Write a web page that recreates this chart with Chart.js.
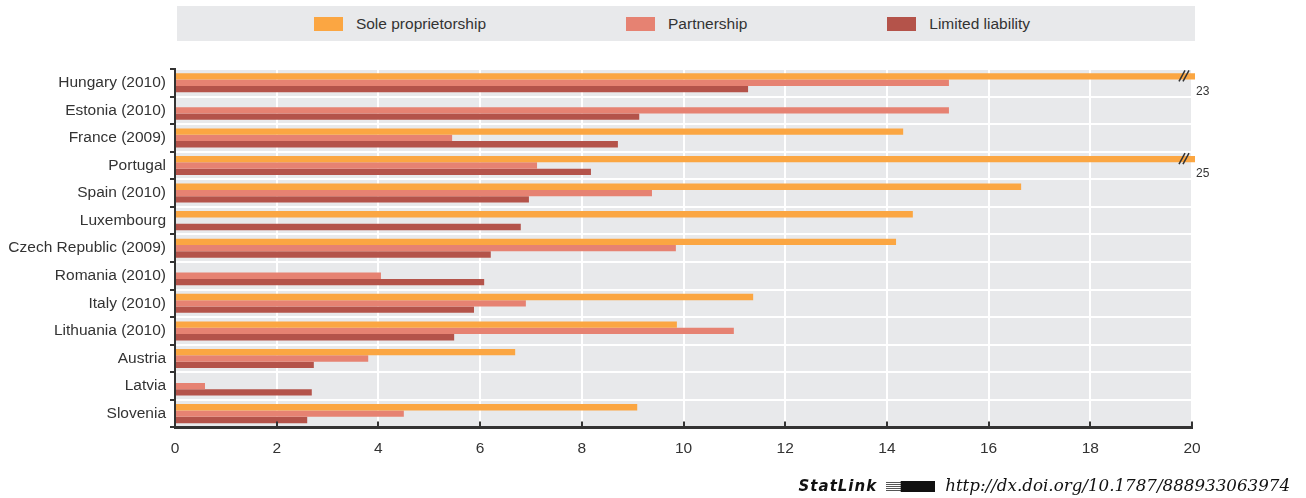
<!DOCTYPE html>
<html>
<head>
<meta charset="utf-8">
<script src="https://cdn.jsdelivr.net/npm/chart.js@4.4.1/dist/chart.umd.min.js"></script>
<style>
  body { margin: 0; background: #fff; font-family: 'Liberation Sans', Arial, sans-serif; }
  #wrap { position: relative; width: 1306px; height: 498px; }
  #chart { position: absolute; left: 0; top: 0; }
  #legend {
    position: absolute; left: 177px; top: 6px; width: 1018px; height: 35px;
    background: #e8e9eb; display: flex; align-items: center; justify-content: center;
    padding-right: 28px; box-sizing: border-box; color: #333; font-size: 15.5px;
  }
  #legend .item { display: flex; align-items: center; margin: 0 70px; }
  #legend .box { width: 29px; height: 14px; margin-right: 13px; }
  #footer { position: absolute; right: 16px; top: 475px; color: #111; white-space: nowrap; }
  #footer .sl { font-family: 'DejaVu Sans', sans-serif; font-weight: bold; font-style: italic; font-size: 15px; letter-spacing: 1px; }
  #footer .ico { display: inline-block; width: 49px; height: 11px; margin: 0 10px 0 9px; vertical-align: -1px;
    background: repeating-linear-gradient(0deg, #fff 0 1px, #555 1px 2px) 0 0 / 30% 100% no-repeat, #111; }
  #footer .url { font-family: 'DejaVu Serif', serif; font-style: italic; font-size: 16.7px; }
</style>
</head>
<body>
<div id="wrap">
  <canvas id="chart" width="1306" height="484"></canvas>
  <div id="legend"></div>
  <div id="footer"><span class="sl">StatLink</span><span class="ico"></span><span class="url">http://dx.doi.org/10.1787/888933063974</span></div>
</div>
<script>
// datos
const countries = ['Hungary (2010)', 'Estonia (2010)', 'France (2009)', 'Portugal', 'Spain (2010)', 'Luxembourg',
  'Czech Republic (2009)', 'Romania (2010)', 'Italy (2010)', 'Lithuania (2010)', 'Austria', 'Latvia', 'Slovenia'];
const seriesNames = ['Sole proprietorship', 'Partnership', 'Limited liability'];
const soleProprietorship = [23, null, 14.32, 25, 16.64, 14.51, 14.18, null, 11.37, 9.87, 6.69, null, 9.09];
const partnership = [15.22, 15.22, 5.45, 7.12, 9.38, null, 9.85, 4.05, 6.90, 10.99, 3.80, 0.59, 4.50];
const limitedLiability = [11.27, 9.13, 8.71, 8.18, 6.96, 6.80, 6.21, 6.08, 5.88, 5.49, 2.73, 2.69, 2.60];
const xTicks = [0, 2, 4, 6, 8, 10, 12, 14, 16, 18, 20];
const xMax = 20;

const colors = ['#fba642', '#e68272', '#b4534a'];
const textColor = '#333';

Chart.defaults.font.family = "'Liberation Sans', Arial, sans-serif";
Chart.defaults.color = textColor;

// leyenda en HTML
const legend = document.getElementById('legend');
seriesNames.forEach((name, i) => {
  const item = document.createElement('div');
  item.className = 'item';
  item.innerHTML = `<span class="box" style="background:${colors[i]}"></span><span>${name}</span>`;
  legend.appendChild(item);
});

// fondo gris del área de trazado
const plotBackground = {
  id: 'plotBackground',
  beforeDraw(chart) {
    const { ctx, chartArea: a } = chart;
    ctx.save();
    ctx.fillStyle = '#e8e9eb';
    ctx.fillRect(a.left, a.top, a.right - a.left, a.bottom - a.top);
    ctx.restore();
  }
};

// marcas interiores del eje x, cortes y valores fuera de escala
const extras = {
  id: 'extras',
  afterDraw(chart) {
    const { ctx, chartArea: a } = chart;
    const x = chart.scales.x;
    ctx.save();
    ctx.strokeStyle = textColor;
    ctx.lineWidth = 2;
    xTicks.forEach(v => {
      const px = Math.round(x.getPixelForValue(v));
      ctx.beginPath();
      ctx.moveTo(px, a.bottom);
      ctx.lineTo(px, a.bottom - 6);
      ctx.stroke();
    });

    const meta = chart.getDatasetMeta(0);
    soleProprietorship.forEach((v, i) => {
      if (v === null || v <= xMax) return;
      const bar = meta.data[i];
      const bx = x.getPixelForValue(xMax) - 8;
      ctx.strokeStyle = '#333';
      ctx.lineWidth = 1.5;
      [-2, 2].forEach(dx => {
        ctx.beginPath();
        ctx.moveTo(bx + dx - 3, bar.y + 5);
        ctx.lineTo(bx + dx + 3, bar.y - 6);
        ctx.stroke();
      });
      ctx.fillStyle = textColor;
      ctx.font = "12px 'Liberation Sans', Arial, sans-serif";
      ctx.textAlign = 'left';
      ctx.textBaseline = 'middle';
      ctx.fillText(String(v), a.right + 4, bar.y + 15);
    });
    ctx.restore();
  }
};

const data = [soleProprietorship, partnership, limitedLiability];

new Chart(document.getElementById('chart'), {
  type: 'bar',
  data: {
    labels: countries,
    datasets: seriesNames.map((name, i) => ({
      label: name,
      data: data[i],
      backgroundColor: colors[i],
      borderWidth: 0,
      categoryPercentage: 0.69,
      barPercentage: 1.0,
      clip: { left: 0, top: 0, right: 3, bottom: 0 }
    }))
  },
  options: {
    indexAxis: 'y',
    responsive: false,
    animation: false,
    layout: { padding: { top: 69, right: 114, bottom: 14, left: 0 } },
    plugins: {
      legend: { display: false },
      tooltip: { enabled: false }
    },
    scales: {
      x: {
        min: 0,
        max: xMax,
        afterBuildTicks: s => { s.ticks = xTicks.map(v => ({ value: v })); },
        grid: { color: '#fff', lineWidth: 2, drawTicks: false },
        border: { color: textColor, width: 3 },
        ticks: { padding: 12, font: { size: 15.5 }, color: textColor }
      },
      y: {
        afterFit: s => { s.width = 175; },
        grid: { color: '#fff', lineWidth: 2, offset: true, tickLength: 5, tickColor: textColor, tickWidth: 2 },
        border: { color: textColor, width: 2 },
        ticks: { padding: 4, font: { size: 15.5 }, color: textColor, autoSkip: false }
      }
    }
  },
  plugins: [plotBackground, extras]
});
</script>
</body>
</html>
